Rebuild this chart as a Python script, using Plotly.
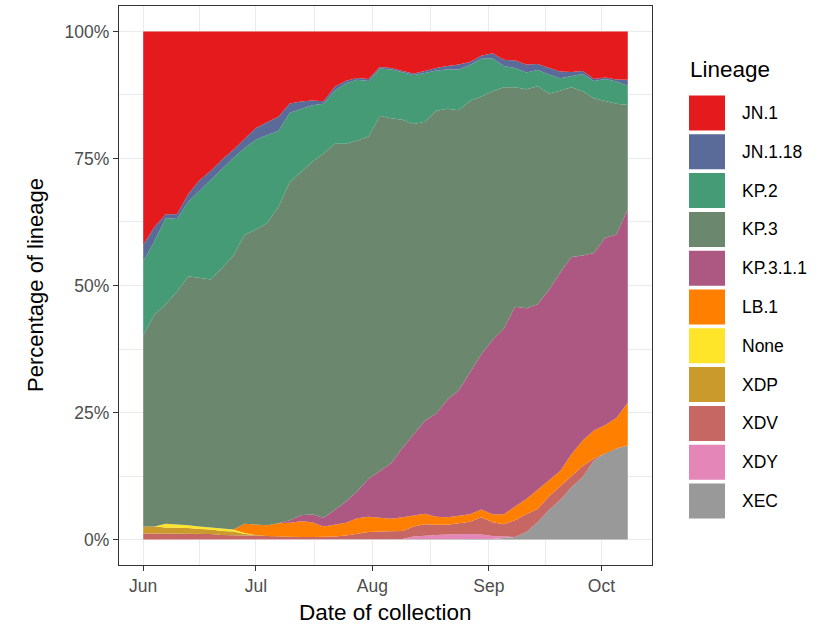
import pandas as pd
import plotly.graph_objects as go

# ---- data (percent share per lineage, every 3 days from 2024-06-01) ----
day_offsets = list(range(0, 130, 3))
dates = [pd.Timestamp("2024-06-01") + pd.Timedelta(days=d) for d in day_offsets]

lineages = ["JN.1", "JN.1.18", "KP.2", "KP.3", "KP.3.1.1", "LB.1",
            "None", "XDP", "XDV", "XDY", "XEC"]
colors = ["#E41A1C", "#5A6A99", "#449B76", "#6B886E", "#AD5882", "#FF7F00",
          "#FFE529", "#CA9A2C", "#C66764", "#E486B7", "#999999"]

jn1 = [42, 38.5, 36, 36, 32, 29.3, 27.4, 25.2, 23.3, 21.2,
       19, 17.9, 16.8, 14.2, 13.8, 13.6, 13.8, 10.9, 9.7, 9.2,
       9.4, 7, 7.2, 7.8, 8.3, 7.8, 7.2, 6.8, 6.5, 6.0,
       4.8, 4.3, 5.6, 5.7, 6.5, 6.4, 7.2, 7.9, 8, 7.8,
       9.4, 9.1, 9.5, 9.5]
jn1_18 = [3.2, 2.8, 0.7, 0.9, 1.5, 2.0, 1.9, 1.7, 1.6, 1.8,
          2.3, 2.5, 2.8, 1.8, 1.5, 0.9, 0.5, 0.8, 0.5, 0.3,
          0.4, 0.3, 0.3, 0.2, 0.3, 0.4, 0.5, 0.7, 1.0, 0.6,
          0.6, 1.0, 1.2, 1.5, 1.6, 1.2, 1.3, 1.3, 0.8, 0.6,
          0.4, 0.3, 0.4, 1.2]
kp2 = [14.6, 14.4, 17, 14.3, 14.7, 17.2, 19.5, 19.6, 19.2, 17,
       17.7, 17.3, 14.9, 13.7, 12.3, 11.1, 9.8, 10.4, 11.9, 12,
       10.9, 9.3, 9.6, 9.4, 9.6, 9.6, 7.9, 7.7, 8.0, 7.1,
       7.4, 6.5, 4.2, 3.8, 3.3, 3.2, 3.7, 2.5, 2.2, 3.4,
       3.4, 4.3, 4.4, 3.8]
kp3 = [37.6, 41.7, 43.2, 45.8, 49, 48.9, 48.8, 51.4, 53.9, 56.9,
       58, 59.5, 62.3, 66.5, 67.6, 69.3, 71.9, 72.1, 70.4, 69.1,
       67.5, 69.9, 67.9, 64.6, 61.1, 58.8, 59.6, 57.3, 55.1, 53.3,
       50.8, 48.9, 47.5, 43.2, 43.1, 42.9, 38.7, 35.8, 33.4, 32.3,
       30.5, 27, 25.8, 20.5]
kp3_1_1 = [0, 0, 0, 0, 0, 0, 0, 0, 0, 0,
           0, 0, 0, 0.5, 1.2, 1.6, 1.7, 2.8, 4.2, 5.3,
           7.5, 9.2, 10.9, 13.6, 15.9, 18.3, 20.3, 23.1, 24.7, 28,
           30.5, 34.3, 36.5, 39.3, 37.5, 36.5, 37.4, 39, 38.8, 36.4,
           35, 36.9, 36.2, 38]
lb1 = [0, 0, 0, 0, 0, 0, 0, 0, 0, 1.8,
       2.1, 2.1, 2.6, 2.8, 3.1, 2.9, 2.1, 2.4, 2.5, 3.0,
       3.0, 2.7, 2.5, 2.7, 2.2, 2.1, 1.6, 1.5, 1.5, 1.5,
       1.5, 1.6, 2.0, 2.7, 3.0, 3.8, 3.2, 3.0, 4.3, 5.0,
       5.5, 5.6, 6, 8.5]
none_ = [0, 0, 0.7, 0.6, 0.5, 0.5, 0.4, 0.4, 0.4, 0.2,
         0, 0, 0, 0, 0, 0, 0, 0, 0, 0,
         0, 0, 0, 0, 0, 0, 0, 0, 0, 0,
         0, 0, 0, 0, 0, 0, 0, 0, 0, 0,
         0, 0, 0, 0]
xdp = [1.4, 1.4, 1.2, 1.2, 1.1, 0.9, 0.9, 0.8, 0.8, 0.3,
       0.1, 0, 0, 0, 0, 0, 0, 0, 0, 0,
       0, 0, 0, 0, 0, 0, 0, 0, 0, 0,
       0, 0, 0, 0, 0, 0, 0, 0, 0, 0,
       0, 0, 0, 0]
xdv = [1.2, 1.2, 1.2, 1.2, 1.2, 1.2, 1.1, 0.9, 0.8, 0.8,
       0.8, 0.7, 0.6, 0.5, 0.5, 0.5, 0.5, 0.6, 0.8, 1.2,
       1.5, 1.6, 1.6, 1.6, 2.0, 2.2, 2.0, 1.9, 2.1, 2.4,
       3.4, 2.7, 2.4, 3.3, 3.5, 2.6, 2.7, 2.7, 2.2, 2.2,
       0.4, 0, 0, 0]
xdy = [0, 0, 0, 0, 0, 0, 0, 0, 0, 0,
       0, 0, 0, 0, 0, 0, 0, 0, 0, 0,
       0, 0, 0, 0.1, 0.6, 0.8, 0.9, 1.0, 1.1, 1.1,
       1.0, 0.6, 0.3, 0, 0, 0, 0, 0, 0, 0,
       0, 0, 0, 0]
xec = [0, 0, 0, 0, 0, 0, 0, 0, 0, 0,
       0, 0, 0, 0, 0, 0, 0, 0, 0, 0,
       0, 0, 0, 0, 0, 0, 0, 0, 0, 0,
       0, 0.1, 0.3, 0.5, 1.5, 3.4, 5.8, 7.8, 10.3, 12.3,
       15.6, 17, 18, 18.5]

series = [jn1, jn1_18, kp2, kp3, kp3_1_1, lb1, none_, xdp, xdv, xdy, xec]

month_ticks = ["2024-06-01", "2024-07-01", "2024-08-01", "2024-09-01", "2024-10-01"]
month_labels = ["Jun", "Jul", "Aug", "Sep", "Oct"]
minor_x = ["2024-06-16", "2024-07-16 12:00", "2024-08-16 12:00", "2024-09-16"]
y_ticks = [0, 25, 50, 75, 100]
y_labels = ["0%", "25%", "50%", "75%", "100%"]

FONT = "Liberation Sans, Arial, sans-serif"

fig = go.Figure()
# bottom of stack first (ggplot fill order: first level on top)
for name, col, vals in reversed(list(zip(lineages, colors, series))):
    fig.add_trace(go.Scatter(
        x=dates, y=vals, name=name, mode="lines",
        stackgroup="one", groupnorm="percent",
        line=dict(width=0, color=col), fillcolor=col,
        showlegend=False,
    ))

# geometry helpers (pixels -> paper)
W_FIG, H_FIG = 832, 629
L, R, T, B = 119, 652, 6, 565
def px(x):
    return (x - L) / (R - L)
def py(y):
    return (B - y) / (B - T)

shapes = []
annotations = []
annotations.append(dict(text="Lineage", x=px(688), y=py(70), xref="paper", yref="paper",
                        xanchor="left", yanchor="middle", showarrow=False,
                        font=dict(family=FONT, size=22.5, color="black")))
for i, (name, col) in enumerate(zip(lineages, colors)):
    yc = 113 + 38.8 * i
    shapes.append(dict(type="rect", xref="paper", yref="paper",
                       x0=px(689), x1=px(725), y0=py(yc + 17.5), y1=py(yc - 17.5),
                       fillcolor=col, line=dict(width=0), layer="above"))
    annotations.append(dict(text=name, x=px(740), y=py(yc), xref="paper", yref="paper",
                            xanchor="left", yanchor="middle", showarrow=False,
                            font=dict(family=FONT, size=17.5, color="black")))

annotations.append(dict(text="Date of collection", x=px(385.5), y=py(613),
                        xref="paper", yref="paper", xanchor="center", yanchor="middle",
                        showarrow=False, font=dict(family=FONT, size=22.5, color="black")))
annotations.append(dict(text="Percentage of lineage", x=px(35), y=py(285),
                        xref="paper", yref="paper", xanchor="center", yanchor="middle",
                        textangle=-90, showarrow=False,
                        font=dict(family=FONT, size=22, color="black")))

fig.update_layout(
    width=W_FIG, height=H_FIG,
    margin=dict(l=L, r=W_FIG - R, t=T, b=H_FIG - B, pad=0),
    paper_bgcolor="white", plot_bgcolor="white",
    showlegend=False,
    shapes=shapes, annotations=annotations,
    xaxis=dict(
        type="date",
        range=["2024-05-25 13:12", "2024-10-14 10:48"],
        tickmode="array", tickvals=month_ticks, ticktext=month_labels,
        ticks="outside", ticklen=5, tickwidth=1.3, tickcolor="#333333",
        tickfont=dict(family=FONT, size=17.5, color="#4D4D4D"),
        showgrid=True, gridcolor="#EBEBEB", gridwidth=1.4,
        minor=dict(tickmode="array", tickvals=minor_x, showgrid=True,
                   gridcolor="#EBEBEB", gridwidth=0.7, ticks=""),
        showline=True, mirror=True, linecolor="#333333", linewidth=1.3,
        zeroline=False,
    ),
    yaxis=dict(
        range=[-5, 105],
        tickmode="array", tickvals=y_ticks, ticktext=y_labels,
        ticks="outside", ticklen=5, tickwidth=1.3, tickcolor="#333333",
        tickfont=dict(family=FONT, size=17.5, color="#4D4D4D"),
        showgrid=True, gridcolor="#EBEBEB", gridwidth=1.4,
        minor=dict(tickmode="array", tickvals=[12.5, 37.5, 62.5, 87.5], showgrid=True,
                   gridcolor="#EBEBEB", gridwidth=0.7, ticks=""),
        showline=True, mirror=True, linecolor="#333333", linewidth=1.3,
        zeroline=False,
    ),
)

# remove the default page margin so the 832x629 figure fills the window exactly
fig.write_html("out.html",
               config={"displayModeBar": False},
               post_script="document.body.style.margin='0';document.body.style.overflow='hidden';")
